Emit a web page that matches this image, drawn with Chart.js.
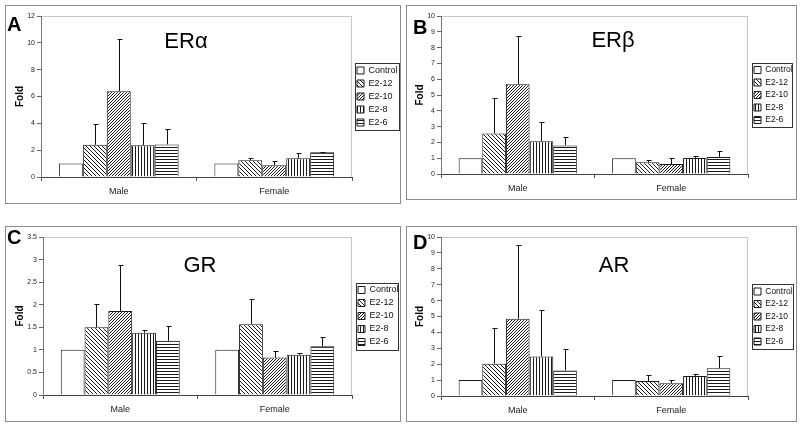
<!DOCTYPE html>
<html>
<head>
<meta charset="utf-8">
<script src="https://cdn.jsdelivr.net/npm/chart.js@4.4.1/dist/chart.umd.min.js"></script>
<style>
  body { margin: 0; background: #fff; width: 800px; height: 426px; position: relative; overflow: hidden;
         font-family: "Liberation Sans", Arial, sans-serif; }
  .panel { position: absolute; border: 1px solid #8c8c8c; box-sizing: border-box; }
  .panel canvas { display: block; }
  .letter { position: absolute; font-weight: bold; font-size: 20px; line-height: 20px; }
  .gene { position: absolute; font-size: 22px; line-height: 22px; transform: translateX(-50%); white-space: nowrap; }
</style>
</head>
<body>

<div class="panel" id="pA" style="left:5px;top:5px;width:396px;height:199px"></div>
<div class="panel" id="pB" style="left:406px;top:5px;width:391px;height:195px"></div>
<div class="panel" id="pC" style="left:5px;top:226px;width:396px;height:196px"></div>
<div class="panel" id="pD" style="left:406px;top:226px;width:391px;height:196px"></div>

<div class="letter" style="left:7px;top:14px">A</div>
<div class="letter" style="left:413px;top:17px">B</div>
<div class="letter" style="left:7px;top:227px">C</div>
<div class="letter" style="left:413px;top:232px">D</div>

<div class="gene" style="left:186px;top:30px">ERα</div>
<div class="gene" style="left:613px;top:29px">ERβ</div>
<div class="gene" style="left:200px;top:254px">GR</div>
<div class="gene" style="left:614px;top:254px">AR</div>

<script>
const categories = ['Male', 'Female'];
const groups = ['Control', 'E2-12', 'E2-10', 'E2-8', 'E2-6'];

// fold change per group, [Male, Female]; errors = upper error bar length
const erAlphaMean = [[1.0, 1.0], [2.4, 1.24], [6.4, 0.87], [2.37, 1.39], [2.43, 1.84]];
const erAlphaErr  = [[0, 0], [1.53, 0.15], [3.86, 0.30], [1.63, 0.37], [1.15, 0.05]];

const erBetaMean = [[1.0, 1.0], [2.57, 0.74], [5.68, 0.63], [2.07, 1.01], [1.81, 1.08]];
const erBetaErr  = [[0, 0], [2.22, 0.12], [3.05, 0.36], [1.20, 0.11], [0.53, 0.38]];

const grMean = [[1.0, 1.0], [1.50, 1.57], [1.86, 0.83], [1.38, 0.89], [1.20, 1.08]];
const grErr  = [[0, 0], [0.52, 0.55], [1.03, 0.15], [0.06, 0.04], [0.33, 0.20]];

const arMean = [[1.0, 1.0], [2.03, 0.94], [4.86, 0.80], [2.49, 1.26], [1.61, 1.74]];
const arErr  = [[0, 0], [2.27, 0.36], [4.62, 0.23], [2.90, 0.10], [1.33, 0.78]];

// y axis range [max, step]
const erAlphaAxis = [12, 2];
const erBetaAxis = [10, 1];
const grAxis = [3.5, 0.5];
const arAxis = [10, 1];

const FONT = '"Liberation Sans", Arial, sans-serif';

function makePattern(kind) {
  const c = document.createElement('canvas');
  const s = kind === 'back' ? 4 : 3;
  c.width = s; c.height = s;
  const g = c.getContext('2d');
  g.fillStyle = '#fff';
  g.fillRect(0, 0, s, s);
  g.strokeStyle = '#1a1a1a';
  g.fillStyle = '#1a1a1a';
  g.lineWidth = 1;
  if (kind === 'back') {
    g.beginPath();
    g.moveTo(-1, -1); g.lineTo(s + 1, s + 1);
    g.moveTo(-1, s - 1); g.lineTo(1, s + 1);
    g.moveTo(s - 1, -1); g.lineTo(s + 1, 1);
    g.stroke();
  } else if (kind === 'fwd') {
    g.beginPath();
    g.moveTo(-1, s + 1); g.lineTo(s + 1, -1);
    g.moveTo(-1, 1); g.lineTo(1, -1);
    g.moveTo(s - 1, s + 1); g.lineTo(s + 1, s - 1);
    g.stroke();
  } else if (kind === 'vert') {
    g.fillRect(0, 0, 1, s);
  } else if (kind === 'horz') {
    g.fillRect(0, 0, s, 1);
  }
  return g.createPattern(c, 'repeat');
}

const fills = ['#ffffff', makePattern('back'), makePattern('fwd'), makePattern('vert'), makePattern('horz')];

// plot frame, error bars and legend box
const extras = {
  id: 'extras',
  afterLayout(chart, args, opts) {
    const lg = chart.legend;
    lg.left = opts.box[0] - 2;
    lg.right = opts.box[1] + 4;
    lg.width = lg.right - lg.left;
  },
  beforeDraw(chart) {
    const {ctx, chartArea: a} = chart;
    ctx.save();
    ctx.strokeStyle = '#c8c8c8';
    ctx.lineWidth = 1;
    ctx.strokeRect(a.left + 0.5, a.top + 0.5, a.right - a.left - 1, a.bottom - a.top);
    ctx.restore();
  },
  afterDatasetsDraw(chart) {
    const {ctx} = chart;
    const y = chart.scales.y;
    ctx.save();
    ctx.strokeStyle = '#111';
    ctx.lineWidth = 1;
    chart.data.datasets.forEach((ds, i) => {
      chart.getDatasetMeta(i).data.forEach((bar, j) => {
        const e = ds.errors[j];
        if (!e) return;
        const x = Math.round(bar.x) + 0.5;
        const yTop = Math.round(y.getPixelForValue(ds.data[j] + e)) + 0.5;
        ctx.beginPath();
        ctx.moveTo(x, bar.y);
        ctx.lineTo(x, yTop);
        ctx.moveTo(x - 2, yTop);
        ctx.lineTo(x + 3, yTop);
        ctx.stroke();
      });
    });
    ctx.restore();
  },
  afterDraw(chart, args, opts) {
    const hb = chart.legend.legendHitBoxes;
    if (!hb || !hb.length) return;
    const {ctx} = chart;
    const top = Math.round(hb[0].top) - 3;
    const last = hb[hb.length - 1];
    const bottom = Math.round(last.top + last.height) + 3;
    ctx.save();
    ctx.strokeStyle = '#333';
    ctx.lineWidth = 1;
    ctx.strokeRect(opts.box[0] + 0.5, top + 0.5, opts.box[1] - opts.box[0], bottom - top);
    ctx.restore();
  }
};

function drawPanel(id, w, h, means, errs, axis, geo) {
  const canvas = document.createElement('canvas');
  canvas.width = w;
  canvas.height = h;
  document.getElementById(id).appendChild(canvas);

  const datasets = groups.map((name, i) => ({
    label: name,
    data: means[i],
    errors: errs[i],
    backgroundColor: fills[i],
    borderColor: '#1a1a1a',
    borderWidth: 1,
    categoryPercentage: 0.77,
    barPercentage: 1.0
  }));

  new Chart(canvas, {
    type: 'bar',
    data: { labels: categories, datasets: datasets },
    plugins: [extras],
    options: {
      responsive: false,
      animation: false,
      devicePixelRatio: 1,
      layout: { padding: { left: 0, top: geo.top, right: w - geo.right - geo.lw, bottom: 0 } },
      scales: {
        x: {
          ticks: { font: { size: 9, family: FONT }, color: '#222', padding: 5 },
          grid: { drawOnChartArea: false, tickLength: 4, color: '#555', offset: true },
          border: { color: '#444' },
          afterFit(s) { s.height = h - geo.bottom; }
        },
        y: {
          min: 0,
          max: axis[0],
          ticks: {
            stepSize: axis[1], font: { size: 7, family: FONT }, color: '#222', padding: 2,
            callback: v => String(Math.round(v * 100) / 100)
          },
          grid: { drawOnChartArea: false, tickLength: 4, color: '#666' },
          border: { color: '#777' },
          title: { display: true, text: 'Fold', color: '#000',
                   font: { size: 10, weight: 'bold', family: FONT }, padding: { top: geo.fold, bottom: 0 } },
          afterFit(s) { s.width = geo.left; }
        }
      },
      plugins: {
        tooltip: { enabled: false },
        extras: { box: geo.box },
        legend: {
          position: 'right',
          fullSize: false,
          maxWidth: geo.lw,
          labels: {
            boxWidth: 7, boxHeight: 7, padding: 4, color: '#111',
            font: { size: geo.lf, family: FONT }
          }
        }
      }
    }
  });
}

drawPanel('pA', 394, 197, erAlphaMean, erAlphaErr, erAlphaAxis,
  { left: 35, right: 346, top: 10, bottom: 171, lw: 46, box: [349, 393], fold: 8, lf: 9 });
drawPanel('pB', 389, 193, erBetaMean, erBetaErr, erBetaAxis,
  { left: 34, right: 341, top: 10, bottom: 168, lw: 44, box: [345, 385], fold: 7, lf: 8.5 });
drawPanel('pC', 394, 194, grMean, grErr, grAxis,
  { left: 37, right: 346, top: 10, bottom: 168, lw: 46, box: [350, 392], fold: 8, lf: 9 });
drawPanel('pD', 389, 194, arMean, arErr, arAxis,
  { left: 34, right: 341, top: 10, bottom: 169, lw: 44, box: [345, 386], fold: 7, lf: 8.5 });
</script>
</body>
</html>
